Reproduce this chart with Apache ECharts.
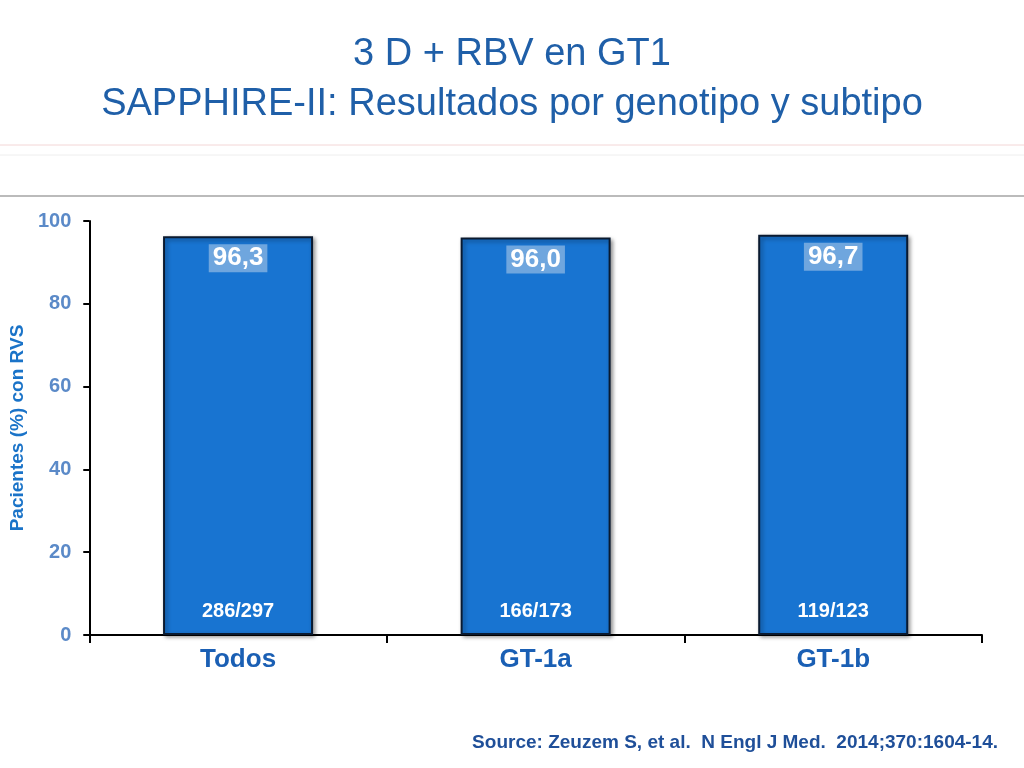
<!DOCTYPE html><html><head><meta charset="utf-8"><script src="https://cdn.jsdelivr.net/npm/echarts@6/dist/echarts.min.js"></script>
<style>html,body{margin:0;padding:0;background:#fff}#c{width:1024px;height:768px}</style></head><body><div id="c"></div><script>
const categories=['Todos','GT-1a','GT-1b'];
const values=[96.3,96.0,96.7];
const valueLabels=['96,3','96,0','96,7'];
const counts=['286/297','166/173','119/123'];
const chart=echarts.init(document.getElementById('c'));
chart.setOption({
animation:false,
title:{text:'3 D + RBV en GT1\nSAPPHIRE-II: Resultados por genotipo y subtipo',left:'center',top:25,textStyle:{color:'#1f5fa8',fontSize:38,fontWeight:'normal',fontFamily:'Liberation Sans',lineHeight:50}},
graphic:[
{type:'line',shape:{x1:0,y1:145,x2:1024,y2:145},style:{stroke:'#f3d6d6',lineWidth:1}},
{type:'line',shape:{x1:0,y1:155,x2:1024,y2:155},style:{stroke:'#eee',lineWidth:1}},
{type:'line',shape:{x1:0,y1:196,x2:1024,y2:196},style:{stroke:'#bbb',lineWidth:2}},
{type:'text',right:26,top:733,style:{text:'Source: Zeuzem S, et al.  N Engl J Med.  2014;370:1604-14.',fill:'#1f4f99',font:'bold 19px Liberation Sans'}}
],
grid:{left:88,right:42,top:221,bottom:133},
xAxis:{type:'category',data:categories,axisLine:{lineStyle:{color:'#000',width:2}},axisTick:{show:true,length:8,lineStyle:{color:'#000',width:2}},
axisLabel:{color:'#1a5fb4',fontSize:26,fontWeight:'bold',fontFamily:'Liberation Sans',margin:12}},
yAxis:{type:'value',min:0,max:100,interval:20,name:'Pacientes (%) con RVS',nameLocation:'middle',nameGap:58,nameTextStyle:{color:'#1a73c8',fontSize:19,fontWeight:'bold',fontFamily:'Liberation Sans'},
axisLine:{show:true,lineStyle:{color:'#000',width:2}},axisTick:{show:true,length:6,lineStyle:{color:'#000',width:2}},splitLine:{show:false},
axisLabel:{color:'#5b8ac8',fontSize:20,fontWeight:'bold',fontFamily:'Liberation Sans',margin:18}},
series:[
{type:'bar',data:values,barWidth:150,itemStyle:{color:'#1874d1',borderColor:'#0a1a30',borderWidth:2,shadowColor:'rgba(0,0,0,0.4)',shadowBlur:4,shadowOffsetX:2,shadowOffsetY:2},
label:{show:true,position:'insideTop',distance:8,formatter:p=>valueLabels[p.dataIndex],color:'#fff',fontSize:26,fontWeight:'bold',fontFamily:'Liberation Sans',backgroundColor:'#6fa6de',padding:[1,4]}},
{type:'bar',data:values,barWidth:150,barGap:'-100%',itemStyle:{color:'transparent'},silent:true,
label:{show:true,position:'insideBottom',distance:14,formatter:p=>counts[p.dataIndex],color:'#fff',fontSize:20,fontWeight:'bold',fontFamily:'Liberation Sans'}}
]});
</script></body></html>
